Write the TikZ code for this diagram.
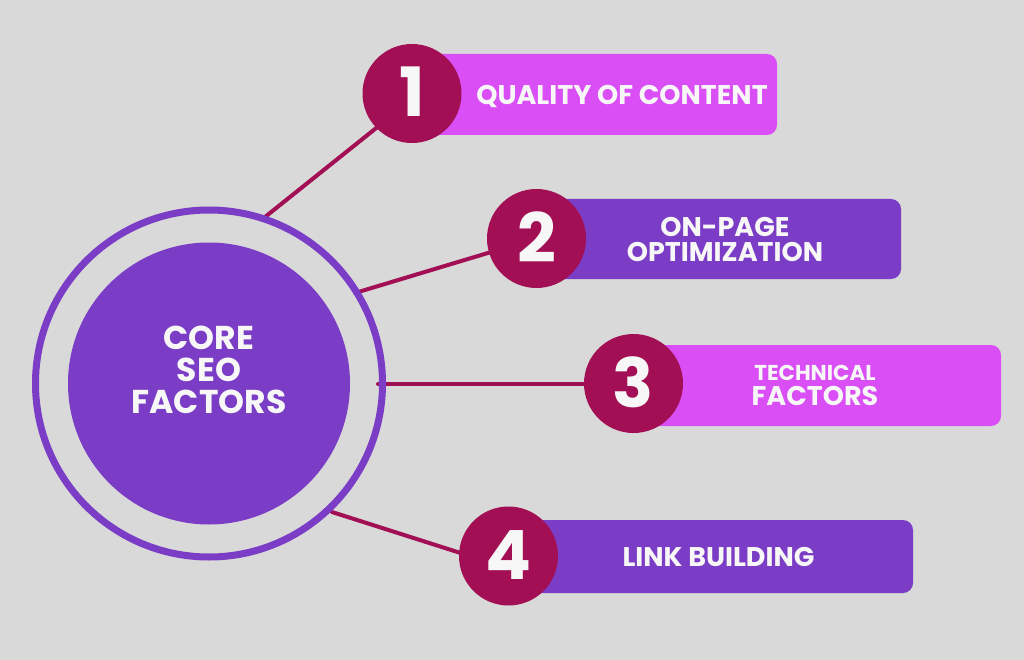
\documentclass[tikz,border=0pt]{standalone}
\usepackage{fontspec}
\setmainfont{Poppins}
\definecolor{bg}{HTML}{D9D9D9}
\definecolor{violet}{HTML}{7B3CC6}
\definecolor{pinkbox}{HTML}{D94FF5}
\definecolor{numc}{HTML}{A30F54}
\definecolor{txt}{HTML}{F7F7F7}
\begin{document}
\begin{tikzpicture}[x=1pt,y=-1pt,
  numcirc/.style={circle, fill=numc, minimum size=99pt, inner sep=0pt, text=txt,
    font=\bfseries\fontsize{68}{68}\selectfont, text height=47pt, text depth=0pt},
  link/.style={draw=numc, line width=4pt, line cap=round},
  lbl/.style={text=txt, align=center, inner sep=0pt, font=\bfseries\fontsize{27}{25}\selectfont},
  boxv/.style={fill=violet, rounded corners=10pt},
  boxp/.style={fill=pinkbox, rounded corners=10pt}]
\useasboundingbox (0,0) rectangle (1024,660);
\fill[bg] (0,0) rectangle (1024,660);

% connectors (behind everything)
\coordinate (r1) at (265,217);
\coordinate (r2) at (355,293);
\coordinate (r3) at (378,384);
\coordinate (r4) at (332,512);
\coordinate (e1) at (395,113);
\coordinate (e2) at (536,238.5);
\coordinate (e3) at (633,384);
\coordinate (e4) at (470,556);
\draw[link] (r1) -- (e1);
\draw[link] (r2) -- (e2);
\draw[link] (r3) -- (e3);
\draw[link] (r4) -- (e4);

% central circles
\node[circle, draw=violet, line width=7pt, minimum size=347pt, inner sep=0pt] (ring) at (209,383.5) {};
\node[circle, fill=violet, minimum size=282pt, inner sep=0pt] (core) at (209,383.5) {};
\node[text=txt, align=center, inner sep=0pt,
  font=\bfseries\fontsize{33}{32}\selectfont] (coretext) at (209,370) {CORE\\SEO\\FACTORS};

% boxes
\fill[boxp] (412,54) rectangle (777,135);
\fill[boxv] (536,199) rectangle (901,279);
\fill[boxp] (633,345) rectangle (1001,426);
\fill[boxv] (508,520) rectangle (913,593);

% number circles
\node[numcirc] (n1) at (412,93.5) {1};
\node[numcirc] (n2) at (536.5,238.5) {2};
\node[numcirc] (n3) at (633.5,383.5) {3};
\node[numcirc] (n4) at (508.5,556) {4};

% labels
\node[lbl, text height=19pt, text depth=0pt] (t1) at (622,95) {QUALITY OF CONTENT};
\node[lbl] (t2) at (725,239.5) {ON-PAGE\\OPTIMIZATION};
\node[lbl, font=\bfseries\fontsize{21.5}{24}\selectfont, text height=15pt, text depth=0pt] (t3a) at (815,373) {TECHNICAL};
\node[lbl, text height=19pt, text depth=0pt] (t3b) at (815,396) {FACTORS};
\node[lbl, text height=19pt, text depth=0pt] (t4) at (718.5,557) {LINK BUILDING};
\end{tikzpicture}
\end{document}
